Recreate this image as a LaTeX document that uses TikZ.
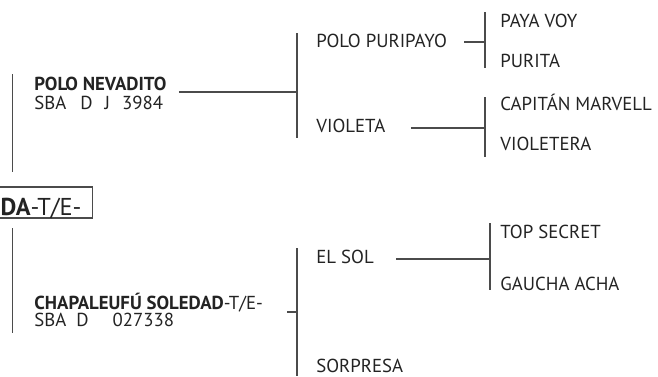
\documentclass[tikz,border=0pt]{standalone}
\usepackage{fontspec}
\setmainfont{PT Sans}
\definecolor{pedtext}{RGB}{35, 35, 35}
\definecolor{pedline}{RGB}{75, 75, 75}
\usetikzlibrary{positioning, calc}
\tikzset{
  horse/.style={anchor=base west, inner sep=0pt, text=pedtext, font=\fontsize{9.4}{11}\selectfont},
  champ/.style={horse, font=\fontsize{9.4}{11}\selectfont\bfseries},
  link/.style={draw=pedline, line width=0.65pt},
  rootbox/.style={draw=pedline, line width=0.65pt, anchor=base east, text=pedtext,
    inner xsep=5.5pt, inner ysep=0pt, text height=14pt, text depth=1.5pt,
    font=\fontsize{12.2}{14}\selectfont}
}

\begin{document}
\begin{tikzpicture}[x=0.5pt, y=-0.5pt]
  \clip (0,0) rectangle (658,376);
  % root and its two parent bars
  \node[rootbox] (root) at (93,215) {\textbf{DA}-T/E-};
  \coordinate (rtop1) at (12.5,74);  \coordinate (rtop2) at (12.5,172);
  \coordinate (rbot1) at (12.5,228); \coordinate (rbot2) at (12.5,333);
  \draw[link] (rtop1) -- (rtop2);
  \draw[link] (rbot1) -- (rbot2);
  % parents
  \node[champ] (sire) at (34,90) {POLO NEVADITO};
  \node[horse] (sirereg) at (34,109) {SBA\hspace{7pt}D\hspace{6pt}J\hspace{6pt}3984};
  \node[horse] (dam) at (34,309) {\textbf{CHAPALEUFÚ SOLEDAD}-T/E-};
  \node[horse] (damreg) at (34,326) {SBA\hspace{5pt}D\hspace{12pt}027338};
  % grandparents
  \node[horse] (ss) at (316,47) {POLO PURIPAYO};
  \node[horse] (sd) at (316,132) {VIOLETA};
  \node[horse] (ds) at (316,263) {EL SOL};
  \node[horse] (dd) at (316,372) {SORPRESA};
  % great-grandparents
  \node[horse] (sss) at (500,27) {PAYA VOY};
  \node[horse] (ssd) at (500,67) {PURITA};
  \node[horse] (sds) at (500,110) {CAPITÁN MARVELL};
  \node[horse] (sdd) at (500,150) {VIOLETERA};
  \node[horse] (dss) at (500,238) {TOP SECRET};
  \node[horse] (dsd) at (500,290) {GAUCHA ACHA};
  % bars
  \coordinate (sbar) at (297,92);  \coordinate (dbar) at (297,312);
  \coordinate (ssbar) at (485,42); \coordinate (sdbar) at (485,128);
  \coordinate (dsbar) at (490,259);
  \draw[link] (sbar |- 0,33) -- (sbar |- 0,138);
  \draw[link] (dbar |- 0,248) -- (dbar |- 0,376);
  \draw[link] (ssbar |- 0,12) -- (ssbar |- 0,68);
  \draw[link] (sdbar |- 0,97) -- (sdbar |- 0,157);
  \draw[link] (dsbar |- 0,223) -- (dsbar |- 0,290);
  % joins
  \draw[link] (sire.base east) ++(12,2) -- (sbar);
  \draw[link] (dam.base east) ++(24,3) -- (dbar);
  \draw[link] (ss.base east) ++(17,-5) -- (ssbar);
  \draw[link] (sd.base east) ++(25,-4) -- (sdbar);
  \draw[link] (ds.base east) ++(22,-4) -- (dsbar);
\end{tikzpicture}
\end{document}
